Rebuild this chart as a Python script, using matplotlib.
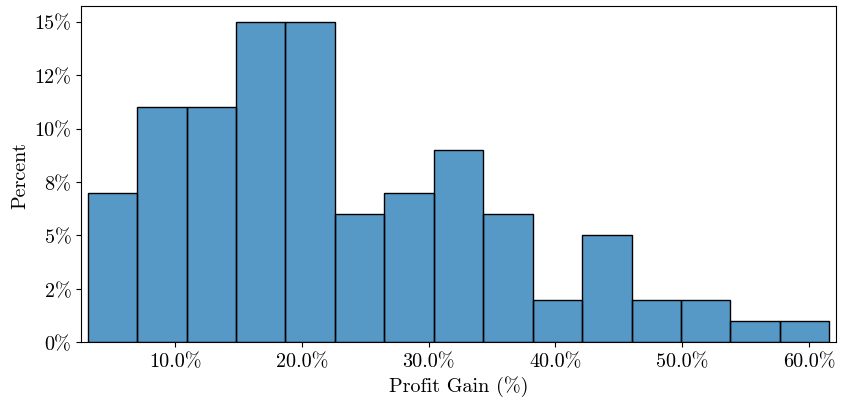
import matplotlib
matplotlib.use("Agg")
import matplotlib.pyplot as plt
import numpy as np
from matplotlib.ticker import PercentFormatter

# histogram: 15 bins, percent of runs in each
bin_start = 3.11
bin_width = 3.90
percent = [7, 11, 11, 15, 15, 6, 7, 9, 6, 2, 5, 2, 2, 1, 1]

plt.rcParams['font.family'] = 'serif'
plt.rcParams['font.serif'] = ['cmr10']
plt.rcParams['mathtext.fontset'] = 'cm'
plt.rcParams['axes.formatter.use_mathtext'] = True

edges = bin_start + bin_width * np.arange(len(percent) + 1)
centers = (edges[:-1] + edges[1:]) / 2

fig = plt.figure(figsize=(8.44, 4.06), dpi=100)
ax = fig.add_axes([0.096, 0.1544, 0.8945, 0.8291])

ax.hist(centers, bins=edges, weights=percent, color='#1f77b4', alpha=0.75,
        edgecolor='none')
ax.hist(centers, bins=edges, weights=percent, histtype='bar', fill=False,
        edgecolor='black', linewidth=1.0)

ax.margins(x=0.009, y=0.05)
ax.set_ylim(0, max(percent) * 1.05)
ax.xaxis.set_major_formatter(PercentFormatter(decimals=1))
ax.yaxis.set_major_formatter(PercentFormatter(decimals=0))
ax.set_yticks(np.arange(0, 15.1, 2.5))
ax.set_xticks(np.arange(10, 61, 10))
ax.tick_params(labelsize=14.5)

ax.set_xlabel("Profit Gain (%)", fontsize=14.5)
ax.set_ylabel("Percent", fontsize=14.5)

fig.savefig("out.png", dpi=100)
